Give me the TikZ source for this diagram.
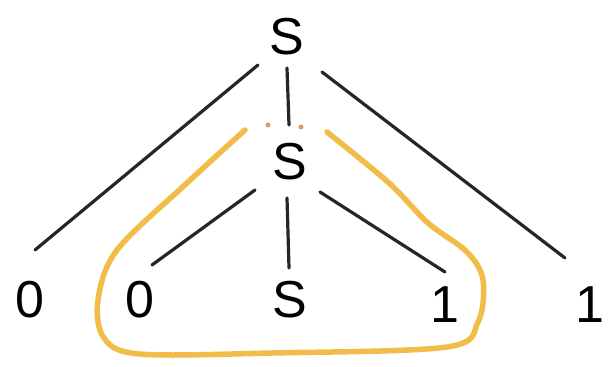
\documentclass[tikz,border=0pt]{standalone}
\usepackage{fontspec}
\setmainfont{Liberation Sans}
\usetikzlibrary{calc}
\definecolor{hl}{RGB}{242,188,72}
\definecolor{dotc}{RGB}{215,160,90}
\begin{document}
\begin{tikzpicture}[x=1pt,y=-1pt,
  lbl/.style={font=\fontsize{52}{52}\selectfont, inner sep=0pt},
  edge/.style={line width=3.2pt, line cap=round, black!85},
  hloop/.style={line width=5.5pt, color=hl, line cap=round, line join=round}]
\useasboundingbox[fill=white] (0,0) rectangle (609,366);
\node[lbl] (s1) at (287,37) {S};
\node[lbl] (s2) at (290,162) {S};
\node[lbl] (a0) at (30,300) {0};
\node[lbl] (b0) at (140,300) {0};
\node[lbl] (s3) at (290,300) {S};
\node[lbl] (c1) at (445,305) {1};
\node[lbl] (d1) at (590,305) {1};
% edges
\draw[edge] ($(s1)+(-29,28)$) -- ($(a0)+(5,-50)$);
\draw[edge] ($(s1)+(0,31)$) -- ($(s2)+(-1,-37)$);
\draw[edge] ($(s1)+(35,35)$) -- ($(d1)+(-25,-47)$);
\draw[edge] ($(s2)+(-35,28)$) -- ($(b0)+(12,-35)$);
\draw[edge] ($(s2)+(-3,36)$) -- ($(s3)+(-1,-32)$);
\draw[edge] ($(s2)+(30,30)$) -- ($(c1)+(0,-33)$);
% highlight loop
\draw[hloop] plot[smooth, tension=0.55] coordinates {(245,130) (187,183) (117,250) (98,300) (104,338) (140,354) (272,353) (447,347) (478,322) (483,280) (467,252) (428,223) (389,183) (327,132)};
\fill[dotc] (268,125) circle (2.5pt);
\fill[dotc] (301,127) circle (2.5pt);
\end{tikzpicture}
\end{document}
